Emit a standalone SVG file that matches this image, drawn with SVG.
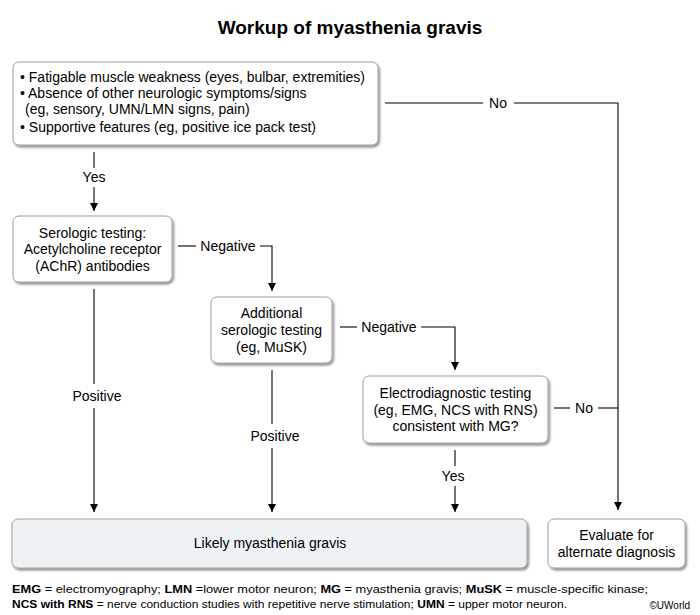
<svg xmlns="http://www.w3.org/2000/svg" width="700" height="615" viewBox="0 0 700 615">
<style>
text{font-family:"Liberation Sans",Arial,sans-serif;fill:#000}
.t{font-size:14px}
.c{text-anchor:middle}
.box{fill:#fff;stroke:#a0a0a0;stroke-width:1;filter:url(#sh)}
.ln{stroke:#000;stroke-width:1.1;fill:none}
.fn{font-size:11px}
</style>
<defs>
<filter id="sh" x="-10%" y="-10%" width="120%" height="130%">
<feDropShadow dx="1.5" dy="2" stdDeviation="1.2" flood-color="#000" flood-opacity="0.45"/>
</filter>
<marker id="ar" viewBox="0 0 8 10" refX="8" refY="5" markerWidth="8" markerHeight="10" markerUnits="userSpaceOnUse" orient="auto">
<path d="M0,1 L8,5 L0,9 Z" fill="#000"/>
</marker>
</defs>
<rect width="700" height="615" fill="#fff"/>
<text x="350" y="34" class="c" style="font-size:19px;font-weight:bold">Workup of myasthenia gravis</text>

<g id="connectors">
<path class="ln" d="M385,103 H483"/>
<text x="498" y="108" class="t c">No</text>
<path class="ln" d="M514,103 H618 V510" marker-end="url(#ar)"/>
<path class="ln" d="M94,152 V168"/>
<text x="94" y="182" class="t c">Yes</text>
<path class="ln" d="M94,187 V211" marker-end="url(#ar)"/>
<path class="ln" d="M178,246 H196"/>
<text x="228" y="251" class="t c">Negative</text>
<path class="ln" d="M260,246 H272 V291" marker-end="url(#ar)"/>
<path class="ln" d="M340,327 H357"/>
<text x="389" y="332" class="t c">Negative</text>
<path class="ln" d="M421,327 H455 V370" marker-end="url(#ar)"/>
<path class="ln" d="M554,408 H570"/>
<text x="584" y="413" class="t c">No</text>
<path class="ln" d="M598,408 H618"/>
<path class="ln" d="M94,289 V384"/>
<text x="97" y="401" class="t c">Positive</text>
<path class="ln" d="M94,408 V512" marker-end="url(#ar)"/>
<path class="ln" d="M272,370 V424"/>
<text x="275" y="441" class="t c">Positive</text>
<path class="ln" d="M272,448 V512" marker-end="url(#ar)"/>
<path class="ln" d="M455,450 V466"/>
<text x="453" y="481" class="t c">Yes</text>
<path class="ln" d="M455,486 V512" marker-end="url(#ar)"/>
</g>

<g id="n1">
<rect class="box" x="13" y="62" width="365" height="83" rx="6"/>
<text x="20" y="82" class="t">• Fatigable muscle weakness (eyes, bulbar, extremities)</text>
<text x="20" y="98" class="t">• Absence of other neurologic symptoms/signs</text>
<text x="25" y="114" class="t">(eg, sensory, UMN/LMN signs, pain)</text>
<text x="20" y="132" class="t">• Supportive features (eg, positive ice pack test)</text>
</g>

<g id="n2">
<rect class="box" x="13" y="216" width="159" height="66" rx="6"/>
<text x="92.5" y="238" class="t c">Serologic testing:</text>
<text x="92.5" y="254" class="t c">Acetylcholine receptor</text>
<text x="92.5" y="271" class="t c">(AChR) antibodies</text>
</g>

<g id="n3">
<rect class="box" x="211" y="297" width="121" height="66" rx="6"/>
<text x="271.5" y="318" class="t c">Additional</text>
<text x="271.5" y="335" class="t c">serologic testing</text>
<text x="271.5" y="352" class="t c">(eg, MuSK)</text>
</g>

<g id="n4">
<rect class="box" x="363" y="376" width="185" height="67" rx="6"/>
<text x="455.5" y="398" class="t c">Electrodiagnostic testing</text>
<text x="455.5" y="415" class="t c">(eg, EMG, NCS with RNS)</text>
<text x="455.5" y="431" class="t c">consistent with MG?</text>
</g>

<g id="n5">
<rect class="box" x="12" y="519" width="515" height="49" rx="6" style="fill:#eef2f5"/>
<text x="270" y="548" class="t c">Likely myasthenia gravis</text>
</g>

<g id="n6">
<rect class="box" x="548" y="519" width="137" height="49" rx="6"/>
<text x="616.5" y="540" class="t c">Evaluate for</text>
<text x="616.5" y="557" class="t c">alternate diagnosis</text>
</g>

<g id="footnote">
<text x="12" y="593" class="fn" textLength="636" lengthAdjust="spacingAndGlyphs"><tspan font-weight="bold">EMG</tspan> = electromyography; <tspan font-weight="bold">LMN</tspan> =lower motor neuron; <tspan font-weight="bold">MG</tspan> = myasthenia gravis; <tspan font-weight="bold">MuSK</tspan> = muscle-specific kinase;</text>
<text x="12" y="608" class="fn" textLength="555" lengthAdjust="spacingAndGlyphs"><tspan font-weight="bold">NCS with RNS</tspan> = nerve conduction studies with repetitive nerve stimulation; <tspan font-weight="bold">UMN</tspan> = upper motor neuron.</text>
<text x="690" y="609" class="fn" style="font-size:10px;text-anchor:end">©UWorld</text>
</g>
</svg>
